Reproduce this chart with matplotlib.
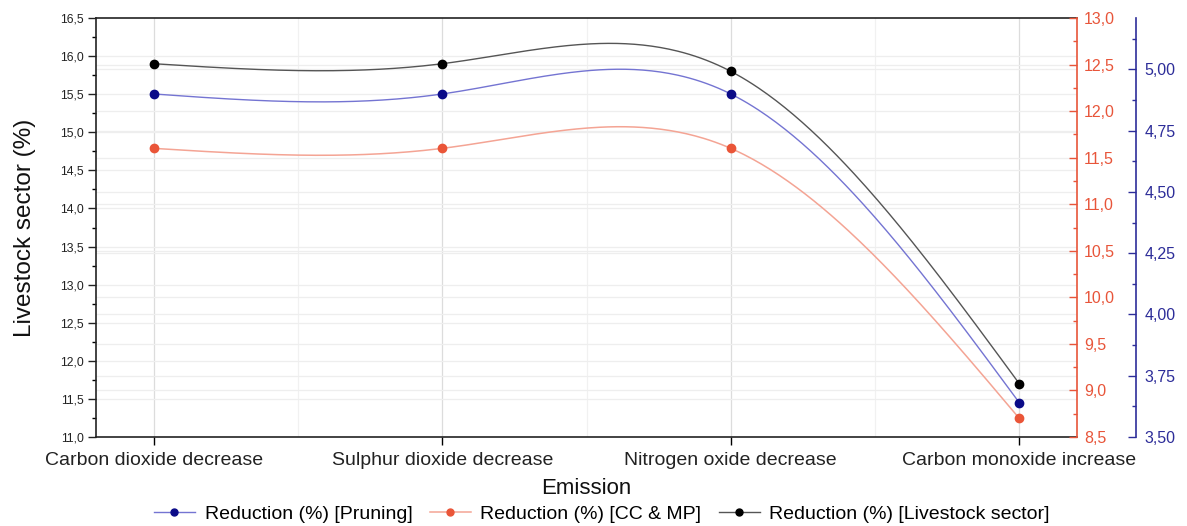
import numpy as np
import matplotlib
matplotlib.use("Agg")
import matplotlib.pyplot as plt
from matplotlib.ticker import MultipleLocator, FuncFormatter, FixedLocator
from matplotlib.lines import Line2D

plt.rcParams['font.family'] = ['Liberation Sans', 'DejaVu Sans']

categories = ["Carbon dioxide decrease", "Sulphur dioxide decrease",
              "Nitrogen oxide decrease", "Carbon monoxide increase"]
pruning = [4.90, 4.90, 4.90, 3.64]          # blue axis
cc_mp = [11.6, 11.6, 11.6, 8.7]             # red axis
livestock = [15.9, 15.9, 15.8, 11.7]        # left axis
legend_labels = ["Reduction (%) [Pruning]", "Reduction (%) [CC & MP]",
                 "Reduction (%) [Livestock sector]"]


def natural_spline(x, y, n=300):
    x = np.asarray(x, float); y = np.asarray(y, float)
    k = len(x); h = np.diff(x)
    A = np.zeros((k, k)); b = np.zeros(k)
    A[0, 0] = 1; A[-1, -1] = 1
    for i in range(1, k - 1):
        A[i, i - 1] = h[i - 1]; A[i, i] = 2 * (h[i - 1] + h[i]); A[i, i + 1] = h[i]
        b[i] = 6 * ((y[i + 1] - y[i]) / h[i] - (y[i] - y[i - 1]) / h[i - 1])
    M = np.linalg.solve(A, b)
    xs = np.linspace(x[0], x[-1], n); ys = np.empty_like(xs)
    for j, xv in enumerate(xs):
        i = min(np.searchsorted(x, xv, side='right') - 1, k - 2)
        t1 = x[i + 1] - xv; t0 = xv - x[i]; hi = h[i]
        ys[j] = (M[i] * t1 ** 3 + M[i + 1] * t0 ** 3) / (6 * hi) + \
                (y[i] / hi - M[i] * hi / 6) * t1 + (y[i + 1] / hi - M[i + 1] * hi / 6) * t0
    return xs, ys


W, H = 1187, 526
fig = plt.figure(figsize=(W / 100, H / 100), dpi=100)
ax = fig.add_axes([96 / W, 1 - 437 / H, (1077 - 96) / W, (437 - 18) / H])
ax_r = ax.twinx()
ax_b = ax.twinx()

red = '#e8553a'
blue = '#2d2d99'
red_line = '#f4a494'
blue_line = '#7474d2'
black_line = '#555555'
red_m = '#ea5538'
blue_m = '#0b0b88'

x = np.arange(len(categories))

comma1 = FuncFormatter(lambda v, p: f"{v:.1f}".replace('.', ','))
comma2 = FuncFormatter(lambda v, p: f"{v:.2f}".replace('.', ','))

# limits
ax.set_xlim(-0.2, 3.2)
ax.set_ylim(11.0, 16.5)
ax_r.set_ylim(8.5, 13.0)
ax_b.set_ylim(3.5, 5.21)

# grids
for xv in x:
    ax.axvline(xv, color='#dcdcdc', lw=0.9, zorder=0)
for xv in x[:-1] + 0.5:
    ax.axvline(xv, color='#f1f1f1', lw=0.9, zorder=0)
for v in np.arange(11.5, 16.5, 0.5):
    ax.axhline(v, color='#eeeeee', lw=0.9, zorder=0)
for v in np.arange(9.0, 13.0, 0.5):
    ax.axhline(11.0 + (v - 8.5) * 5.5 / 4.5, color='#eeeeee', lw=0.9, zorder=0)
for v in np.arange(3.75, 5.01, 0.25):
    ax.axhline(11.0 + (v - 3.5) * 5.5 / 1.71, color='#eeeeee', lw=0.9, zorder=0)

# series
xs, ys = natural_spline(x, livestock)
ax.plot(xs, ys, color=black_line, lw=1.0, zorder=3)
ax.plot(x, livestock, 'o', color='black', ms=6, zorder=4)

xs, ys = natural_spline(x, cc_mp)
ax_r.plot(xs, ys, color=red_line, lw=1.1, zorder=3)
ax_r.plot(x, cc_mp, 'o', color=red_m, ms=6, zorder=4)

xs, ys = natural_spline(x, pruning)
ax_b.plot(xs, ys, color=blue_line, lw=1.0, zorder=3)
ax_b.plot(x, pruning, 'o', color=blue_m, ms=6, zorder=4)

# left axis
ax.set_xticks(x)
ax.set_xticklabels(categories, fontsize=14, color='#222222')
ax.tick_params(axis='x', direction='out', length=6, width=1, pad=5)
ax.yaxis.set_major_locator(MultipleLocator(0.5))
ax.yaxis.set_minor_locator(MultipleLocator(0.25))
ax.yaxis.set_major_formatter(comma1)
ax.tick_params(axis='y', which='major', direction='out', length=6, width=1,
               labelsize=8.8, colors='#222222', pad=3)
ax.tick_params(axis='y', which='minor', direction='out', length=3, width=1)
ax.set_ylabel("Livestock sector (%)", fontsize=17.5, color='#111111', labelpad=17)
ax.set_xlabel("Emission", fontsize=16, color='#111111', labelpad=6)
for s in ['left', 'top', 'bottom']:
    ax.spines[s].set_color('#222222'); ax.spines[s].set_linewidth(1.2)
ax.spines['right'].set_visible(False)

# red axis
for s in ['left', 'top', 'bottom']:
    ax_r.spines[s].set_visible(False)
ax_r.spines['right'].set_color(red); ax_r.spines['right'].set_linewidth(1.2)
ax_r.yaxis.set_major_locator(MultipleLocator(0.5))
ax_r.yaxis.set_minor_locator(MultipleLocator(0.25))
ax_r.yaxis.set_major_formatter(comma1)
ax_r.tick_params(axis='y', which='major', direction='in', length=6, width=1,
                 colors=red, labelsize=11.5, pad=5)
ax_r.tick_params(axis='y', which='minor', direction='in', length=3, width=1, colors=red)

# blue axis
for s in ['left', 'top', 'bottom']:
    ax_b.spines[s].set_visible(False)
ax_b.spines['right'].set_position(('outward', 59 * 0.72))
ax_b.spines['right'].set_color(blue); ax_b.spines['right'].set_linewidth(1.2)
ax_b.yaxis.set_major_locator(FixedLocator(np.arange(3.5, 5.01, 0.25)))
ax_b.yaxis.set_minor_locator(FixedLocator(np.arange(3.625, 5.2, 0.25)))
ax_b.yaxis.set_major_formatter(comma2)
ax_b.tick_params(axis='y', which='major', direction='in', length=6, width=1,
                 colors=blue, labelsize=11.5, pad=6)
ax_b.tick_params(axis='y', which='minor', direction='in', length=3, width=1, colors=blue)

# legend
handles = [
    Line2D([], [], color=blue_line, lw=1.0, marker='o', ms=5, mfc=blue_m, mec=blue_m),
    Line2D([], [], color=red_line, lw=1.1, marker='o', ms=5, mfc=red_m, mec=red_m),
    Line2D([], [], color=black_line, lw=1.0, marker='o', ms=5, mfc='black', mec='black'),
]
fig.legend(handles, legend_labels, loc='center', bbox_to_anchor=(602 / W, 1 - 514 / H),
           ncol=3, frameon=False, fontsize=14, handlelength=2.1,
           handletextpad=0.5, columnspacing=0.9)

fig.savefig("out.png", dpi=100)
